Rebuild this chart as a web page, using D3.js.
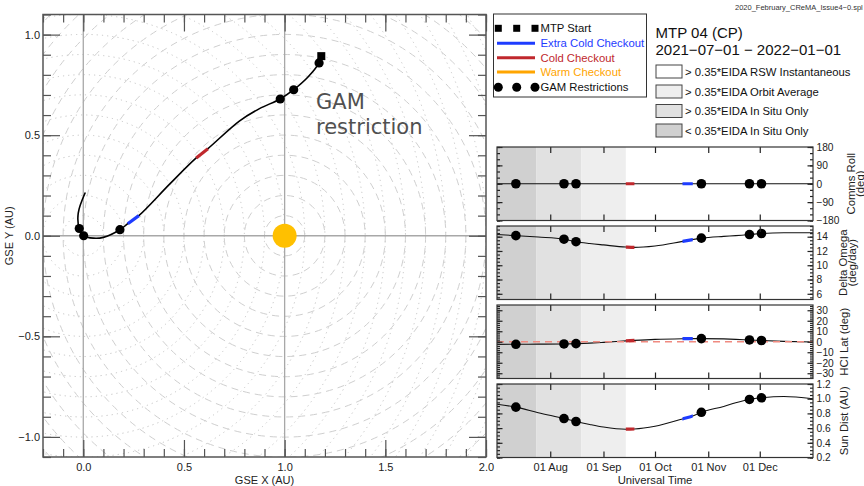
<!DOCTYPE html>
<html>
<head>
<meta charset="utf-8">
<script src="https://cdn.jsdelivr.net/npm/d3@7"></script>
<style>
  body { margin: 0; background: #fff; }
  svg { display: block; font-family: "Liberation Sans", Arial, Helvetica, sans-serif; }
</style>
</head>
<body>
<svg id="chart" width="864" height="486"></svg>
<script>
// ---------------- data ----------------
const sampleDates = ["2021-07-01","2021-07-12","2021-07-25","2021-08-09","2021-08-16","2021-08-24",
  "2021-09-01","2021-09-14","2021-09-19","2021-10-01","2021-10-17","2021-10-23","2021-10-28",
  "2021-11-10","2021-11-17","2021-11-25","2021-12-02","2021-12-15","2022-01-01"];
const gseX = [1.182, 1.171, 1.116, 1.045, 0.978, 0.875, 0.775, 0.619, 0.561, 0.430, 0.276, 0.221,
  0.182, 0.100, 0.050, 0.002, -0.020, -0.025, 0.010];
const gseY = [0.893, 0.859, 0.789, 0.726, 0.680, 0.632, 0.570, 0.433, 0.387, 0.258, 0.100, 0.060,
  0.030, -0.008, -0.012, 0.000, 0.036, 0.113, 0.215];
const commsRoll = [0,0,0,0,0,0,0,0,0,0,0,0,0,0,0,0,0,0,0];
const deltaOmega = [14.3, 14.15, 13.95, 13.65, 13.3, 13.05, 12.85, 12.55, 12.5, 12.7, 13.35, 13.6,
  13.8, 14.05, 14.15, 14.3, 14.45, 14.55, 14.55];
const hciLat = [-2.5, -2.4, -2.3, -2.1, -1.8, -1.3, -0.6, 0.8, 1.3, 2.3, 2.9, 3.0, 3.0, 2.7, 2.3,
  1.7, 1.2, 0.4, -0.3];
const sunDist = [0.925, 0.885, 0.81, 0.73, 0.69, 0.65, 0.615, 0.585, 0.588, 0.625, 0.725, 0.765,
  0.815, 0.895, 0.945, 0.99, 1.012, 1.03, 1.0];

const gamDates = ["2021-07-12","2021-08-09","2021-08-16","2021-10-28","2021-11-25","2021-12-02"];
const mtpStartDate = "2021-07-01";
const extraColdWindow = ["2021-10-17","2021-10-23"];
const coldWindow = ["2021-09-14","2021-09-19"];

const eidaBandStarts = ["2021-07-01","2021-07-24","2021-08-19"];
const eidaBandEnds   = ["2021-07-24","2021-08-19","2021-09-14"];
const eidaBandLevel  = [3, 2, 1];
const eidaLabels = ["> 0.35*EIDA RSW Instantaneous", "> 0.35*EIDA Orbit Average",
  "> 0.35*EIDA In Situ Only", "< 0.35*EIDA In Situ Only"];
const eidaFills = ["#ffffff", "#eeeeee", "#e1e1e1", "#d0d0d0"];

const legendLabels = ["MTP Start", "Extra Cold Checkout", "Cold Checkout", "Warm Checkout", "GAM Restrictions"];
const COL_BLUE = "#1e3cff", COL_RED = "#c0282d", COL_ORANGE = "#ffa500", COL_SUN = "#ffc000";

const gseMajorX = [0, 0.5, 1.0, 1.5, 2.0];
const gseMajorY = [-1.0, -0.5, 0, 0.5, 1.0];
const monthTicks = ["2021-08-01","2021-09-01","2021-10-01","2021-11-01","2021-12-01"];

const panelTitles = [["Comms Roll","(deg)"], ["Delta Omega","(deg/day)"], ["HCI Lat (deg)"], ["Sun Dist (AU)"]];
const panelDomains = [[-180, 180], [5.2, 15.5], [-35, 35], [0.2, 1.2]];
const panelMajor = [[-180,-90,0,90,180], [6,8,10,12,14], [-30,-20,-10,0,10,20,30], [0.2,0.4,0.6,0.8,1.0,1.2]];
const panelMinorStep = [30, 0.5, 2, 0.05];
const panelFormat = ["d", "d", "d", ".1f"];
const panelSeries = [commsRoll, deltaOmega, hciLat, sunDist];

// ---------------- setup ----------------
const svg = d3.select("#chart");
const defs = svg.append("defs");
const parse = d3.utcParse("%Y-%m-%d");
const dates = sampleDates.map(parse);
const idxOf = s => sampleDates.indexOf(s);

svg.append("text").attr("x", 735).attr("y", 10).attr("font-size", 7.5).attr("fill", "#333")
  .text("2020_February_CReMA_Issue4\u22120.spl");

// ---------------- GSE trajectory plot ----------------
const gx = d3.scaleLinear().domain([-0.2, 2.0]).range([43, 486]);
const gy = d3.scaleLinear().domain([-1.1, 1.1]).range([457, 14.5]);
const unit = gx(1) - gx(0);

defs.append("clipPath").attr("id", "gseClip").append("rect")
  .attr("x", gx(-0.2)).attr("y", gy(1.1))
  .attr("width", gx(2.0) - gx(-0.2)).attr("height", gy(-1.1) - gy(1.1));

const gse = svg.append("g");
const rings = gse.append("g").attr("clip-path", "url(#gseClip)").attr("fill", "none");

// range rings around the Earth (dotted) and the Sun (dashed)
d3.range(1, 24).forEach(i => {
  rings.append("circle").attr("cx", gx(0)).attr("cy", gy(0)).attr("r", i / 10 * unit)
    .attr("stroke", "#c4c4c4").attr("stroke-width", 1).attr("stroke-dasharray", "1.2,4");
});
d3.range(1, 17).forEach(i => {
  rings.append("circle").attr("cx", gx(1)).attr("cy", gy(0)).attr("r", i / 10 * unit)
    .attr("stroke", "#cfcfcf").attr("stroke-width", 1).attr("stroke-dasharray", "7,5");
});

// reference axes through Earth and Sun
const refG = gse.append("g").attr("stroke", "#a8a8a8").attr("stroke-width", 1.3);
[0, 1].forEach(v => refG.append("line").attr("x1", gx(v)).attr("x2", gx(v)).attr("y1", gy(1.1)).attr("y2", gy(-1.1)));
refG.append("line").attr("x1", gx(-0.2)).attr("x2", gx(2.0)).attr("y1", gy(0)).attr("y2", gy(0));

// axes with inward ticks
const gseMinor = d3.range(-11, 21).map(i => i / 10);
function styleAxis(g, fs) {
  g.select(".domain").remove();
  g.selectAll(".tick line").attr("stroke", "#555").attr("stroke-width", 1.2);
  g.selectAll("text").attr("fill", "#222").attr("font-size", fs)
    .attr("font-family", "Liberation Sans, Arial, sans-serif");
}
const fmt1 = d3.format(".1f");
gse.append("g").attr("transform", `translate(${gx(-0.2)},0)`)
  .call(d3.axisLeft(gy).tickValues(gseMinor.filter(v => v >= -1.1 && v <= 1.1)).tickSize(-8).tickFormat(""))
  .call(g => styleAxis(g, 11));
gse.append("g").attr("transform", `translate(${gx(-0.2)},0)`)
  .call(d3.axisLeft(gy).tickValues(gseMajorY).tickSize(-17).tickPadding(3).tickFormat(fmt1))
  .call(g => styleAxis(g, 11));
gse.append("g").attr("transform", `translate(${gx(2.0)},0)`)
  .call(d3.axisRight(gy).tickValues(gseMinor.filter(v => v >= -1.1 && v <= 1.1)).tickSize(-8).tickFormat(""))
  .call(g => styleAxis(g, 11));
gse.append("g").attr("transform", `translate(${gx(2.0)},0)`)
  .call(d3.axisRight(gy).tickValues(gseMajorY).tickSize(-17).tickFormat(""))
  .call(g => styleAxis(g, 11));
gse.append("g").attr("transform", `translate(0,${gy(-1.1)})`)
  .call(d3.axisBottom(gx).tickValues(gseMinor.filter(v => v >= -0.2)).tickSize(-8).tickFormat(""))
  .call(g => styleAxis(g, 11));
gse.append("g").attr("transform", `translate(0,${gy(-1.1)})`)
  .call(d3.axisBottom(gx).tickValues(gseMajorX).tickSize(-17).tickPadding(6).tickFormat(fmt1))
  .call(g => styleAxis(g, 11));
gse.append("g").attr("transform", `translate(0,${gy(1.1)})`)
  .call(d3.axisTop(gx).tickValues(gseMinor.filter(v => v >= -0.2)).tickSize(-8).tickFormat(""))
  .call(g => styleAxis(g, 11));
gse.append("g").attr("transform", `translate(0,${gy(1.1)})`)
  .call(d3.axisTop(gx).tickValues(gseMajorX).tickSize(-17).tickFormat(""))
  .call(g => styleAxis(g, 11));

gse.append("rect").attr("x", gx(-0.2)).attr("y", gy(1.1))
  .attr("width", gx(2.0) - gx(-0.2)).attr("height", gy(-1.1) - gy(1.1))
  .attr("fill", "none").attr("stroke", "#555").attr("stroke-width", 1.5);

gse.append("text").attr("x", (gx(-0.2) + gx(2.0)) / 2).attr("y", 484).attr("text-anchor", "middle")
  .attr("font-size", 11).attr("fill", "#222").text("GSE X (AU)");
gse.append("text").attr("transform", `translate(13,${gy(0)}) rotate(-90)`).attr("text-anchor", "middle")
  .attr("font-size", 11).attr("fill", "#222").text("GSE Y (AU)");

// the Sun
gse.append("circle").attr("cx", gx(1)).attr("cy", gy(0)).attr("r", 12).attr("fill", COL_SUN);

// trajectory
const gsePts = sampleDates.map((d, i) => [gseX[i], gseY[i]]);
const gseLine = d3.line().x(d => gx(d[0])).y(d => gy(d[1])).curve(d3.curveCatmullRom.alpha(0.5));
gse.append("path").attr("d", gseLine(gsePts)).attr("fill", "none").attr("stroke", "#000").attr("stroke-width", 1.6);

function gseSegment(win, color) {
  const a = idxOf(win[0]), b = idxOf(win[1]);
  gse.append("path").attr("d", gseLine(gsePts.slice(a, b + 1))).attr("fill", "none")
    .attr("stroke", color).attr("stroke-width", 3.2);
}
gseSegment(extraColdWindow, COL_BLUE);
gseSegment(coldWindow, COL_RED);

gamDates.forEach(d => {
  const i = idxOf(d);
  gse.append("circle").attr("cx", gx(gseX[i])).attr("cy", gy(gseY[i])).attr("r", 4.6).attr("fill", "#000");
});
{
  const i = idxOf(mtpStartDate);
  gse.append("rect").attr("x", gx(gseX[i]) - 4).attr("y", gy(gseY[i]) - 4).attr("width", 8).attr("height", 8).attr("fill", "#000");
}

gse.append("text").attr("x", 316).attr("y", 109).attr("font-family", "DejaVu Sans, sans-serif")
  .attr("font-size", 21).attr("fill", "#505050").text("GAM");
gse.append("text").attr("x", 316).attr("y", 133.5).attr("font-family", "DejaVu Sans, sans-serif")
  .attr("font-size", 21).attr("fill", "#505050").text("restriction");

// ---------------- legend ----------------
const leg = svg.append("g");
leg.append("rect").attr("x", 493.5).attr("y", 14).attr("width", 153).attr("height", 83)
  .attr("fill", "#fff").attr("stroke", "#333").attr("stroke-width", 1);
const legY = [28.3, 43.3, 57.7, 72, 87.3];
const symX = [498.3, 516.7, 535];
symX.forEach(x => leg.append("rect").attr("x", x - 3.5).attr("y", legY[0] - 3.5).attr("width", 7).attr("height", 7).attr("fill", "#000"));
[COL_BLUE, COL_RED, COL_ORANGE].forEach((c, k) => {
  leg.append("line").attr("x1", 497).attr("x2", 535).attr("y1", legY[k + 1]).attr("y2", legY[k + 1])
    .attr("stroke", c).attr("stroke-width", 3);
});
symX.forEach(x => leg.append("circle").attr("cx", x).attr("cy", legY[4]).attr("r", 4.5).attr("fill", "#000"));
const legCols = ["#111", COL_BLUE, COL_RED, COL_ORANGE, "#111"];
legendLabels.forEach((t, k) => {
  leg.append("text").attr("x", 540.5).attr("y", legY[k] + 4).attr("font-size", 11.3)
    .attr("fill", legCols[k]).text(t);
});

// title
svg.append("text").attr("x", 655.5).attr("y", 38).attr("font-size", 15).attr("fill", "#111").text("MTP 04 (CP)");
svg.append("text").attr("x", 655.5).attr("y", 54.5).attr("font-size", 15).attr("fill", "#111")
  .text("2021\u221207\u221201 \u2212 2022\u221201\u221201");

// EIDA shading key
const keyY = [65, 85, 104.5, 124];
eidaLabels.forEach((t, k) => {
  svg.append("rect").attr("x", 656).attr("y", keyY[k]).attr("width", 26).attr("height", 13)
    .attr("fill", eidaFills[k]).attr("stroke", "#444").attr("stroke-width", 1);
  svg.append("text").attr("x", 685).attr("y", keyY[k] + 10.5).attr("font-size", 11.3).attr("fill", "#111").text(t);
});

// ---------------- time-series panels ----------------
const tx = d3.scaleUtc().domain([parse("2021-07-01"), parse("2022-01-01")]).range([497, 813]);
const panelTops = [147, 226, 305, 384];
const panelH = 73.5;
const titleX = [[854.5, 863.5], [846.5, 855.5], [847.5], [847.5]];

panelTops.forEach((top, p) => {
  const bottom = top + panelH;
  const y = d3.scaleLinear().domain(panelDomains[p]).range([bottom, top]);
  const g = svg.append("g");
  const clipId = "pclip" + p;
  defs.append("clipPath").attr("id", clipId).append("rect")
    .attr("x", tx.range()[0]).attr("y", top).attr("width", tx.range()[1] - tx.range()[0]).attr("height", panelH);
  const body = g.append("g").attr("clip-path", `url(#${clipId})`);

  eidaBandStarts.forEach((s, k) => {
    body.append("rect").attr("x", tx(parse(s))).attr("y", top)
      .attr("width", tx(parse(eidaBandEnds[k])) - tx(parse(s))).attr("height", panelH)
      .attr("fill", eidaFills[eidaBandLevel[k]]);
  });

  const series = panelSeries[p];
  const line = d3.line().x((d, i) => tx(dates[i])).y(d => y(d)).curve(d3.curveMonotoneX);
  body.append("path").attr("d", line(series)).attr("fill", "none").attr("stroke", "#111").attr("stroke-width", 1.1);

  if (p === 2) {
    body.append("line").attr("x1", tx.range()[0]).attr("x2", tx.range()[1]).attr("y1", y(0)).attr("y2", y(0))
      .attr("stroke", "#f08a80").attr("stroke-width", 1.6).attr("stroke-dasharray", "7,5");
  }

  [[extraColdWindow, COL_BLUE], [coldWindow, COL_RED]].forEach(([win, c], k) => {
    const id = `seg${p}_${k}`;
    defs.append("clipPath").attr("id", id).append("rect")
      .attr("x", tx(parse(win[0]))).attr("y", top).attr("width", tx(parse(win[1])) - tx(parse(win[0]))).attr("height", panelH);
    body.append("path").attr("d", line(series)).attr("fill", "none").attr("stroke", c)
      .attr("stroke-width", 3.2).attr("clip-path", `url(#${id})`);
  });

  gamDates.forEach(d => {
    const i = idxOf(d);
    body.append("circle").attr("cx", tx(dates[i])).attr("cy", y(series[i])).attr("r", 4.8).attr("fill", "#000");
  });

  // y ticks: minor + major on both sides, labels on the right
  const [lo, hi] = panelDomains[p];
  const st = panelMinorStep[p];
  const minor = d3.range(Math.ceil(lo / st - 1e-9), Math.floor(hi / st + 1e-9) + 1).map(k => +(k * st).toFixed(4));
  const fmt = d3.format(panelFormat[p]);
  g.append("g").attr("transform", `translate(${tx.range()[0]},0)`)
    .call(d3.axisLeft(y).tickValues(minor).tickSize(-3).tickFormat("")).call(gg => styleAxis(gg, 10));
  g.append("g").attr("transform", `translate(${tx.range()[0]},0)`)
    .call(d3.axisLeft(y).tickValues(panelMajor[p]).tickSize(-5.5).tickFormat("")).call(gg => styleAxis(gg, 10));
  g.append("g").attr("transform", `translate(${tx.range()[1]},0)`)
    .call(d3.axisRight(y).tickValues(minor).tickSize(-3).tickFormat("")).call(gg => styleAxis(gg, 10));
  g.append("g").attr("transform", `translate(${tx.range()[1]},0)`)
    .call(d3.axisRight(y).tickValues(panelMajor[p]).tickSize(-5.5).tickPadding(3.5).tickFormat(fmt))
    .call(gg => styleAxis(gg, 10.2));

  // month ticks top and bottom
  const mt = monthTicks.map(parse);
  g.append("g").attr("transform", `translate(0,${top})`)
    .call(d3.axisTop(tx).tickValues(mt).tickSize(-6).tickFormat("")).call(gg => styleAxis(gg, 11));
  g.append("g").attr("transform", `translate(0,${bottom})`)
    .call(d3.axisBottom(tx).tickValues(mt).tickSize(-6).tickPadding(6)
      .tickFormat(p === 3 ? d3.utcFormat("%d %b") : ""))
    .call(gg => styleAxis(gg, 11));

  g.selectAll(".tick line").attr("stroke", "#222");
  g.append("rect").attr("x", tx.range()[0]).attr("y", top).attr("width", tx.range()[1] - tx.range()[0])
    .attr("height", panelH).attr("fill", "none").attr("stroke", "#333").attr("stroke-width", 1.2);

  const lines = panelTitles[p];
  lines.forEach((t, k) => {
    g.append("text").attr("transform", `translate(${titleX[p][k]},${top + panelH / 2}) rotate(-90)`)
      .attr("text-anchor", "middle").attr("font-size", 11.3).attr("fill", "#222").text(t);
  });
});

svg.append("text").attr("x", (tx.range()[0] + tx.range()[1]) / 2).attr("y", 483.5).attr("text-anchor", "middle")
  .attr("font-size", 11.3).attr("fill", "#222").text("Universal Time");
</script>
</body>
</html>
